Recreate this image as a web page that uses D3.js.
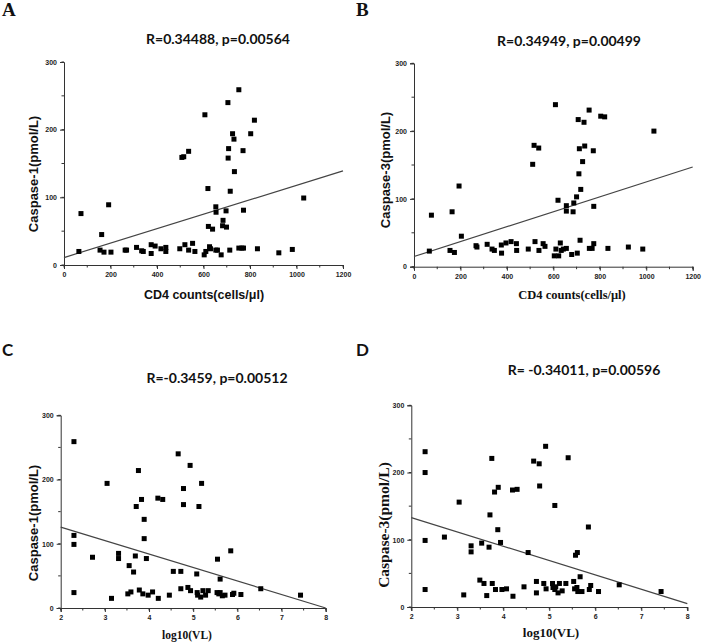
<!DOCTYPE html>
<html>
<head>
<meta charset="utf-8">
<script src="https://cdn.jsdelivr.net/npm/d3@7/dist/d3.min.js"></script>
<style>
  html, body { margin: 0; padding: 0; background: #fff; }
  svg { display: block; }
</style>
</head>
<body>
<svg id="chart" width="704" height="644"></svg>
<script>
// ---------------- DATA ----------------
const cd4Ticks = [0, 200, 400, 600, 800, 1000, 1200];
const vlTicks = [2, 3, 4, 5, 6, 7, 8];
const yTicks = [0, 100, 200, 300];

// Panel A: CD4 counts vs Caspase-1
const aX = [64, 73, 162, 155, 172, 192, 202, 263, 269, 312, 334, 341, 375, 375, 392, 417, 438, 438,
  507, 515, 536, 498, 520, 536, 553, 563, 606, 603, 610, 619, 621, 626, 630, 639, 653, 654, 653, 660,
  676, 684, 682, 699, 697, 705, 706, 708, 713, 715, 725, 731, 733, 752, 752, 765, 770, 772, 772, 803,
  819, 832, 924, 982, 1031];
const aY = [20, 76, 45, 22, 19, 89, 19, 22, 22, 26, 21, 20, 30, 17, 28, 24, 26, 20,
  159, 160, 168, 24, 30, 22, 32, 20, 222, 15, 20, 113, 57, 27, 24, 53, 86, 78, 22, 22,
  15, 66, 58, 56, 80, 240, 158, 172, 22, 109, 194, 186, 138, 259, 25, 25, 169, 81, 25, 194,
  214, 24, 18, 23, 99];
const aFit = [11, 139];

// Panel B: CD4 counts vs Caspase-3
const bX = [66, 75, 155, 164, 174, 194, 204, 267, 271, 315, 336, 346, 376, 377, 396, 418, 441, 442,
  492, 511, 517, 521, 537, 538, 556, 564, 609, 604, 611, 620, 623, 630, 634, 643, 656, 656, 656, 679,
  685, 688, 700, 703, 707, 710, 712, 715, 718, 726, 732, 735, 754, 755, 767, 772, 774, 774, 804, 821,
  835, 923, 985, 1033];
const bY = [23, 76, 24, 81, 21, 119, 45, 31, 29, 33, 26, 24, 32, 20, 35, 37, 34, 24,
  26, 151, 179, 37, 175, 24, 34, 30, 239, 16, 26, 98, 16, 35, 24, 26, 90, 82, 27, 18,
  81, 94, 103, 20, 217, 137, 174, 39, 114, 155, 213, 178, 231, 27, 27, 171, 89, 34, 222, 221,
  27, 29, 26, 200];
const bFit = [15, 147];

// Panel C: log10(VL) vs Caspase-1
const cX = [2.30, 2.30, 2.30, 2.30, 2.72, 3.05, 3.15, 3.31, 3.31, 3.52, 3.55, 3.59, 3.65, 3.69, 3.71,
  3.76, 3.78, 3.83, 3.86, 3.89, 3.89, 3.94, 3.98, 4.08, 4.20, 4.21, 4.31, 4.46, 4.55, 4.66, 4.72, 4.72,
  4.78, 4.78, 4.88, 4.93, 4.94, 5.08, 5.09, 5.10, 5.13, 5.17, 5.19, 5.22, 5.28, 5.34, 5.55, 5.54, 5.58,
  5.61, 5.61, 5.66, 5.72, 5.85, 5.89, 5.92, 6.08, 6.53, 7.43];
const cY = [259, 113, 99, 24, 79, 194, 15, 85, 77, 22, 66, 25, 56, 81, 158,
  214, 28, 169, 22, 138, 108, 77, 20, 25, 171, 15, 169, 20, 57, 240, 30, 57,
  186, 161, 32, 222, 27, 53, 24, 20, 158, 17, 194, 27, 20, 27, 76, 24, 22,
  45, 24, 19, 20, 89, 21, 23, 21, 30, 20];
const cFit = [126, 0];

// Panel D: log10(VL) vs Caspase-3
const dX = [2.30, 2.30, 2.30, 2.30, 2.72, 3.04, 3.14, 3.30, 3.30, 3.49, 3.53, 3.58, 3.64, 3.69, 3.71,
  3.75, 3.76, 3.81, 3.83, 3.88, 3.89, 3.94, 3.97, 4.07, 4.20, 4.21, 4.30, 4.45, 4.54, 4.66, 4.72, 4.72,
  4.78, 4.79, 4.88, 4.92, 4.93, 5.07, 5.08, 5.12, 5.12, 5.14, 5.19, 5.22, 5.28, 5.36, 5.41, 5.53, 5.57,
  5.61, 5.55, 5.60, 5.62, 5.67, 5.71, 5.85, 5.87, 5.90, 6.07, 6.52, 7.43];
const dY = [231, 200, 99, 26, 104, 156, 18, 91, 82, 40, 95, 35, 17, 89, 137,
  221, 35, 171, 26, 115, 178, 96, 26, 27, 174, 16, 175, 30, 81, 217, 38, 21,
  213, 180, 35, 239, 27, 35, 29, 151, 26, 30, 21, 35, 24, 35, 222, 38, 77,
  81, 27, 29, 23, 45, 23, 119, 26, 32, 23, 33, 23];
const dFit = [133, 5];

// ---------------- DRAW ----------------
const svg = d3.select("#chart");
const SANS = "'Liberation Sans', Arial, sans-serif";
const SERIF = "'Liberation Serif', 'Times New Roman', serif";
const CAL = "Lato, 'Open Sans', sans-serif";
const fmt = d3.format("d");

function drawPanel(p) {
  const g = svg.append("g");
  const x = d3.scaleLinear().domain(p.xDomain).range(p.xRange);
  const y = d3.scaleLinear().domain([0, 300]).range(p.yRange);
  const axisColor = "#333";

  // panel letter
  g.append("text").attr("x", p.letterPos[0]).attr("y", p.letterPos[1])
    .attr("font-family", p.letterFont).attr("font-weight", "bold")
    .attr("font-size", p.letterSize).attr("fill", "#111").text(p.letter);

  // title
  g.append("text").attr("x", p.titlePos[0]).attr("y", p.titlePos[1])
    .attr("text-anchor", "middle").attr("font-family", CAL).attr("font-weight", "bold")
    .attr("font-size", 14).attr("fill", "#111").text(p.title);

  // x axis with minor ticks
  const xMinor = d3.range(p.xDomain[0], p.xDomain[1] + 1e-9, p.xMinorStep);
  const xAxis = d3.axisBottom(x).tickValues(p.xTicks).tickFormat(fmt).tickSize(4).tickPadding(3);
  const xa = g.append("g").attr("transform", `translate(0,${p.yRange[0]})`).call(xAxis);
  xa.append("g").selectAll("line").data(xMinor).join("line")
    .attr("x1", d => x(d)).attr("x2", d => x(d)).attr("y1", 0).attr("y2", 2.5)
    .attr("stroke", axisColor);

  const yAxis = d3.axisLeft(y).tickValues(yTicks).tickFormat(fmt).tickSize(4).tickPadding(3);
  const ya = g.append("g").attr("transform", `translate(${p.xRange[0]},0)`).call(yAxis);
  ya.append("g").selectAll("line").data(d3.range(0, 301, 50)).join("line")
    .attr("x1", 0).attr("x2", -2.5).attr("y1", d => y(d)).attr("y2", d => y(d))
    .attr("stroke", axisColor);

  [xa, ya].forEach(a => {
    a.select(".domain").attr("stroke", axisColor).attr("stroke-width", 1);
    a.selectAll(".tick line").attr("stroke", axisColor);
    a.selectAll(".tick text").attr("font-family", SANS).attr("font-weight", "bold")
      .attr("font-size", 7).attr("fill", "#222");
  });

  // axis labels
  g.append("text").attr("x", p.xLabelPos[0]).attr("y", p.xLabelPos[1])
    .attr("text-anchor", "middle").attr("font-family", p.xLabelFont).attr("font-weight", "bold")
    .attr("font-size", p.xLabelSize).attr("fill", "#111").text(p.xLabel);
  g.append("text")
    .attr("transform", `translate(${p.yLabelPos[0]},${p.yLabelPos[1]}) rotate(-90)`)
    .attr("text-anchor", "middle").attr("font-family", p.yLabelFont).attr("font-weight", "bold")
    .attr("font-size", p.yLabelSize).attr("fill", "#111").text(p.yLabel);

  // regression line
  g.append("line")
    .attr("x1", x(p.xDomain[0])).attr("y1", y(p.fit[0]))
    .attr("x2", x(p.xDomain[1])).attr("y2", y(p.fit[1]))
    .attr("stroke", "#444").attr("stroke-width", 1.2);

  // points
  const s = 5;
  g.append("g").selectAll("rect").data(p.xs.map((v, i) => [v, p.ys[i]])).join("rect")
    .attr("x", d => x(d[0]) - s / 2).attr("y", d => y(d[1]) - s / 2)
    .attr("width", s).attr("height", s).attr("fill", "#000");
}

drawPanel({
  letter: "A", letterPos: [2, 16], letterFont: SERIF, letterSize: 19,
  title: "R=0.34488, p=0.00564", titlePos: [218, 44],
  xDomain: [0, 1200], xRange: [64, 343], yRange: [265, 62],
  xTicks: cd4Ticks, xMinorStep: 100,
  xLabel: "CD4 counts(cells/\u03bcl)", xLabelPos: [204, 299], xLabelFont: SANS, xLabelSize: 12.5,
  yLabel: "Caspase-1(pmol/L)", yLabelPos: [38, 174], yLabelFont: SANS, yLabelSize: 13,
  fit: aFit, xs: aX, ys: aY
});
drawPanel({
  letter: "B", letterPos: [356, 16], letterFont: SERIF, letterSize: 19,
  title: "R=0.34949, p=0.00499", titlePos: [569, 46],
  xDomain: [0, 1200], xRange: [414, 692.7], yRange: [266.7, 63.3],
  xTicks: cd4Ticks, xMinorStep: 100,
  xLabel: "CD4 counts(cells/\u03bcl)", xLabelPos: [572, 299], xLabelFont: SERIF, xLabelSize: 12.5,
  yLabel: "Caspase-3(pmol/L)", yLabelPos: [390, 170], yLabelFont: SANS, yLabelSize: 13,
  fit: bFit, xs: bX, ys: bY
});
drawPanel({
  letter: "C", letterPos: [2, 356], letterFont: CAL, letterSize: 17,
  title: "R=-0.3459, p=0.00512", titlePos: [217, 383],
  xDomain: [2, 8], xRange: [60.7, 325.7], yRange: [608, 415.3],
  xTicks: vlTicks, xMinorStep: 0.5,
  xLabel: "log10(VL)", xLabelPos: [187, 639], xLabelFont: SERIF, xLabelSize: 11.5,
  yLabel: "Caspase-1(pmol/L)", yLabelPos: [38, 523], yLabelFont: SANS, yLabelSize: 13,
  fit: cFit, xs: cX, ys: cY
});
drawPanel({
  letter: "D", letterPos: [356, 356], letterFont: CAL, letterSize: 17,
  title: "R= -0.34011, p=0.00596", titlePos: [584, 375],
  xDomain: [2, 8], xRange: [411.3, 687.3], yRange: [607, 405.3],
  xTicks: vlTicks, xMinorStep: 0.5,
  xLabel: "log10(VL)", xLabelPos: [551, 637], xLabelFont: SERIF, xLabelSize: 13,
  yLabel: "Caspase-3(pmol/L)", yLabelPos: [389, 525], yLabelFont: SERIF, yLabelSize: 15.5,
  fit: dFit, xs: dX, ys: dY
});
</script>
</body>
</html>
